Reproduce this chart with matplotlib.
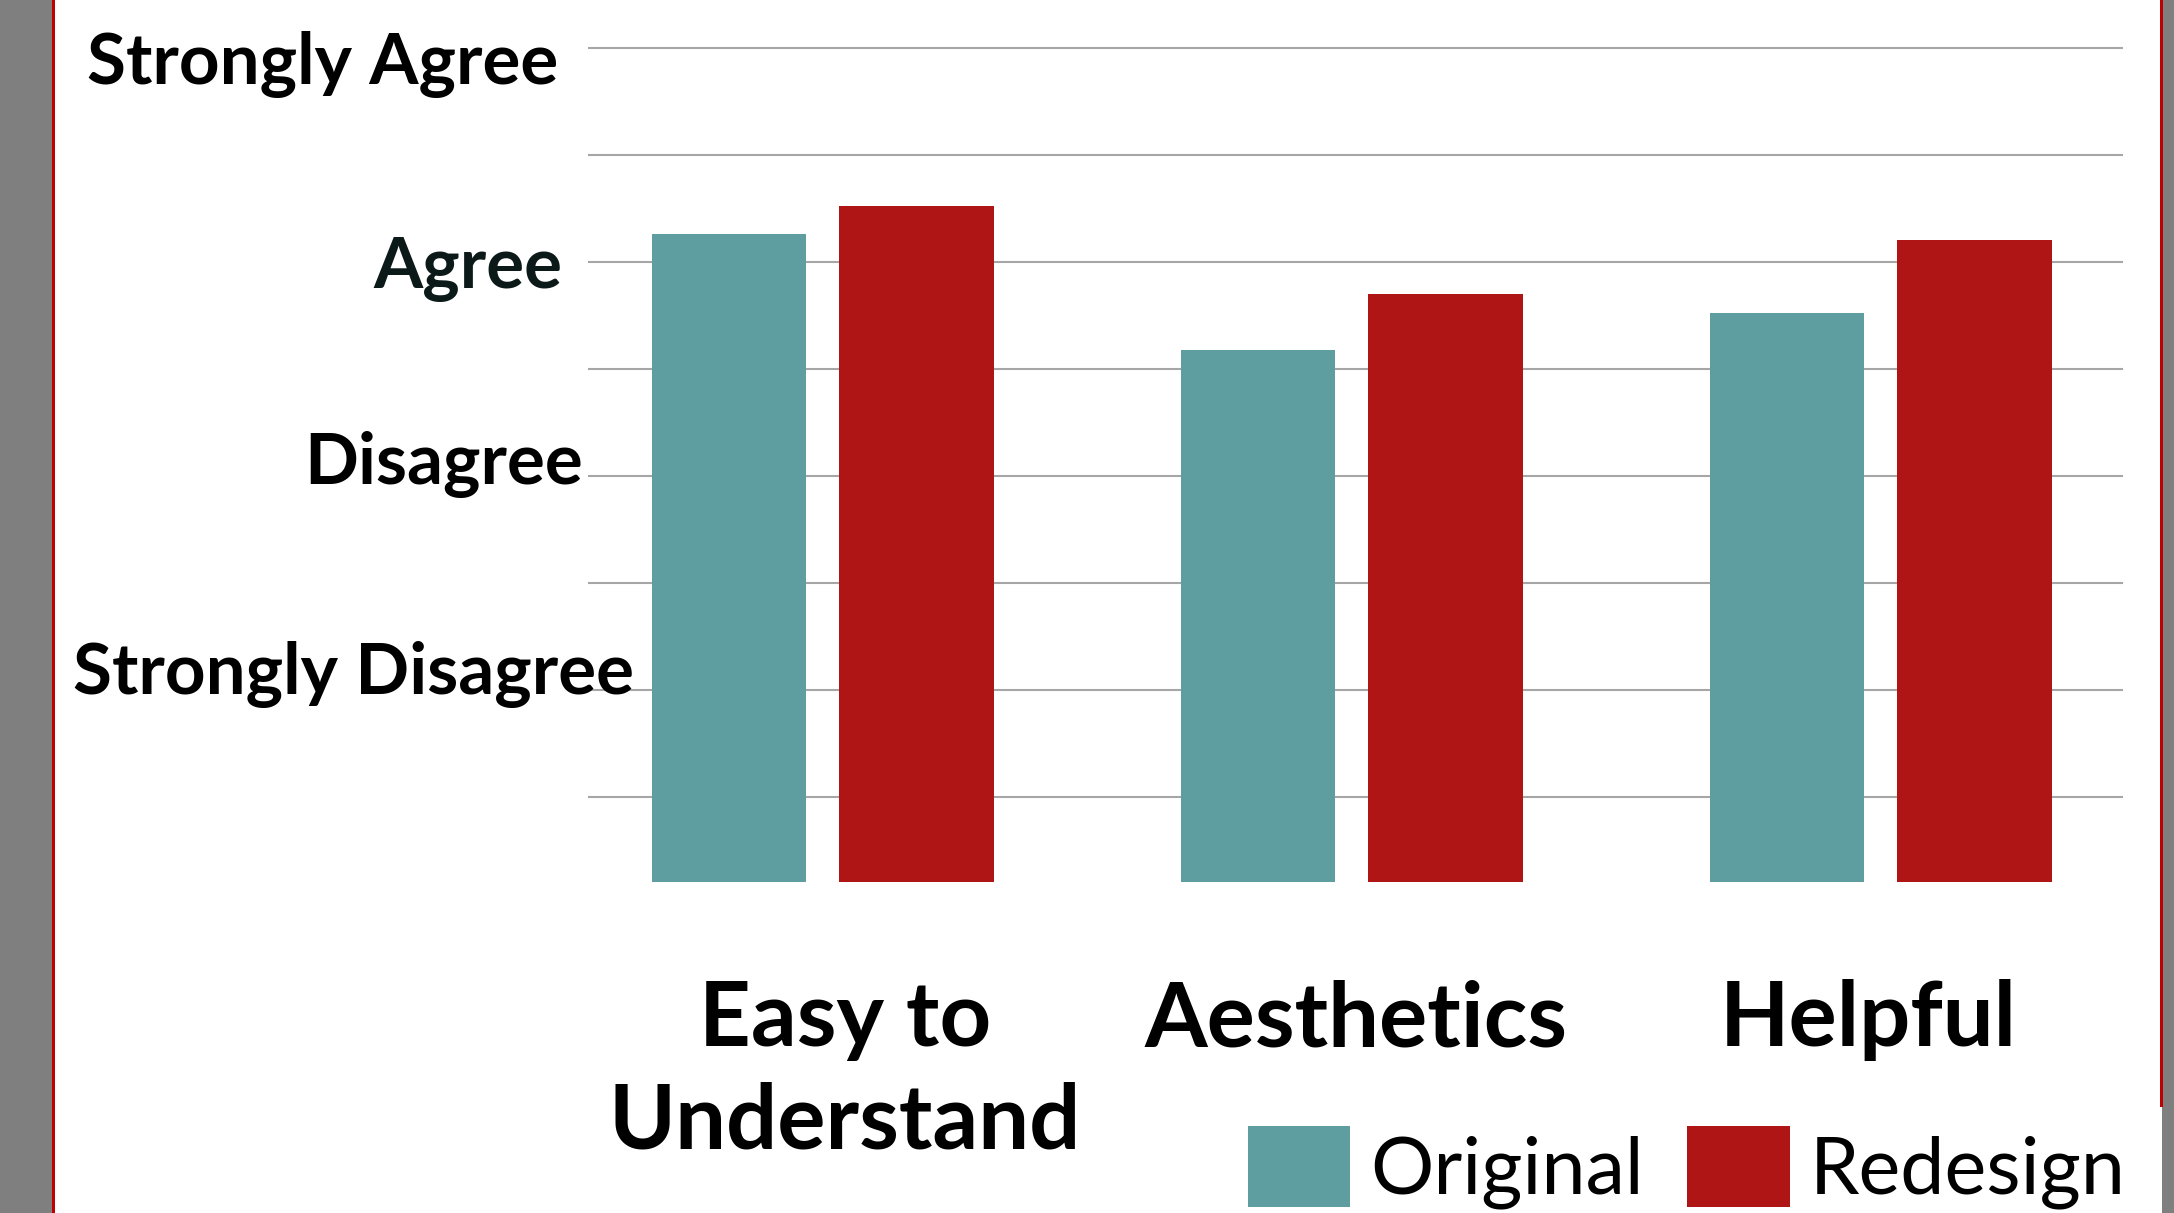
import numpy as np
import matplotlib
matplotlib.use("Agg")
from matplotlib import pyplot as plt
from matplotlib.patches import Rectangle
from matplotlib.transforms import ScaledTranslation

# data (1 = Strongly Disagree ... 4 = Strongly Agree)
categories = ["Easy to\nUnderstand", "Aesthetics", "Helpful"]
series_names = ["Original", "Redesign"]
original = [3.13, 2.59, 2.76]
redesign = [3.26, 2.85, 3.10]
scale_labels = ["Strongly Agree", "Agree", "Disagree", "Strongly Disagree"]

teal = "#5F9EA0"
red = "#AF1515"

plt.rcParams['font.family'] = ['Lato', 'DejaVu Sans']

W, H = 2174, 1213
fig = plt.figure(figsize=(W / 100, H / 100), dpi=100)
fig.patch.set_facecolor("white")

# side frame strips
fig.patches.append(Rectangle((0, 0), 52 / W, 1, transform=fig.transFigure,
                             facecolor="#7F7F7F", edgecolor="none"))
fig.patches.append(Rectangle((52 / W, 0), 3 / W, 1, transform=fig.transFigure,
                             facecolor="#C00000", edgecolor="none"))
fig.patches.append(Rectangle((2162 / W, 0), 12 / W, 1, transform=fig.transFigure,
                             facecolor="#7F7F7F", edgecolor="none"))
fig.patches.append(Rectangle((2160 / W, 1 - 1107 / H), 3 / W, 1107 / H,
                             transform=fig.transFigure,
                             facecolor="#C00000", edgecolor="none"))

ax = fig.add_axes([589 / W, 1 - 882 / H, (2122 - 589) / W, (882 - 47.5) / H])

x = np.arange(len(categories))
width = 0.292
off = 0.177
ax.bar(x - off, original, width, color=teal, label=series_names[0], zorder=2)
ax.bar(x + off, redesign, width, color=red, label=series_names[1], zorder=2)

ax.set_ylim(0.104, 4.0)
ax.set_xlim(-0.442, 2.456)

# gridlines every half step
ax.set_yticks(np.arange(0.5, 4.01, 0.5))
ax.grid(axis="y", color="#A6A6A6", linewidth=1.5)
ax.set_axisbelow(True)
ax.tick_params(axis="y", length=0, labelleft=False)
for gl in ax.get_ygridlines():
    gl.set_clip_on(False)

for s in ax.spines.values():
    s.set_visible(False)

ax.set_xticks(x)
ax.set_xticklabels(categories, fontsize=65, fontweight="bold", linespacing=1.3)
ax.tick_params(axis="x", length=0, pad=70)
for lab, dx in zip(ax.get_xticklabels(), [22, 4, -13]):
    lab.set_transform(lab.get_transform() + ScaledTranslation(dx / 100, 0, fig.dpi_scale_trans))

# scale labels, placed by hand like the original slide
label_pos = [(558, 58), (562, 262), (583, 457), (634, 668)]
for txt, (px, py) in zip(scale_labels, label_pos):
    fig.text(px / W, 1 - py / H, txt, ha="right", va="center_baseline",
             fontsize=51, fontweight="bold",
             color="#0C1919" if txt == "Agree" else "black")

leg = fig.legend(loc="lower right", bbox_to_anchor=(2126 / W, 4 / H),
                 ncol=2, frameon=False, fontsize=57,
                 handlelength=1.3, handleheight=1.2, handletextpad=0.25,
                 columnspacing=0.55, borderpad=0, borderaxespad=0)

fig.savefig("out.png", dpi=100)
